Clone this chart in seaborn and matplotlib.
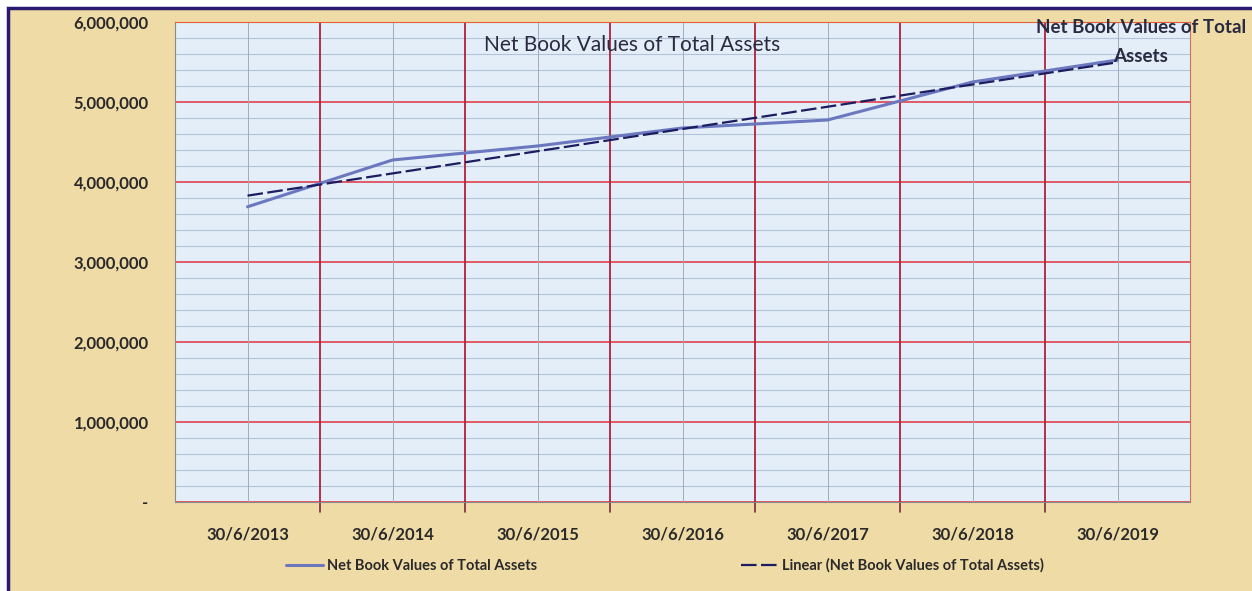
import numpy as np
import pandas as pd
import seaborn as sns
import matplotlib.pyplot as plt
from matplotlib.ticker import FuncFormatter, MultipleLocator
from matplotlib.patches import Rectangle

# data
dates = ["30/6/2013", "30/6/2014", "30/6/2015", "30/6/2016", "30/6/2017", "30/6/2018", "30/6/2019"]
net_book_values = [3690000, 4275000, 4450000, 4675000, 4775000, 5250000, 5525000]
series_name = "Net Book Values of Total Assets"

df = pd.DataFrame({"pos": np.arange(len(dates)), "value": net_book_values})

# linear trendline like excel
slope, intercept = np.polyfit(df["pos"], df["value"], 1)
df["trend"] = intercept + slope * df["pos"]

sns.set_style("white")
plt.rcParams["font.family"] = ["Lato", "DejaVu Sans"]

fig = plt.figure(figsize=(12.52, 5.91), dpi=100)
fig.patch.set_facecolor("#efdba6")
ax = fig.add_axes([0.1398, 0.1506, 0.8107, 0.8122])
ax.set_facecolor("#e3eef8")

# grid: minor blue horizontals, red majors, thin grey at category centres
ax.yaxis.set_minor_locator(MultipleLocator(200000))
ax.yaxis.set_major_locator(MultipleLocator(1000000))
ax.grid(which="minor", axis="y", color="#b2c4dc", lw=0.8, zorder=0)
ax.grid(which="major", axis="y", color="#e0404f", lw=1.2, zorder=1)
for p in df["pos"]:
    ax.axvline(p, color="#a3abbb", lw=0.7, zorder=1)
for b in np.arange(0.5, len(dates) - 1, 1.0):
    ax.axvline(b, color="#b0203a", lw=1.3, zorder=1)

sns.lineplot(data=df, x="pos", y="value", ax=ax, color="#6b78c0", lw=2.2,
             label=series_name, zorder=3)
sns.lineplot(data=df, x="pos", y="trend", ax=ax, color="#1c1c60", lw=1.6,
             label="Linear (Net Book Values of Total Assets)", zorder=4)
ax.lines[-1].set_dashes((7, 2))

ax.set_xlim(-0.5, len(dates) - 0.5)
ax.set_ylim(0, 6000000)
ax.set_xticks(df["pos"])
ax.set_xticklabels(dates, fontsize=12, fontweight="bold", color="#2a2a2a")
ax.yaxis.set_major_formatter(FuncFormatter(lambda v, _: "-" if v == 0 else f"{int(v):,}"))
for t in ax.get_yticklabels():
    t.set_fontsize(12)
    t.set_fontweight("bold")
    t.set_color("#2a2a2a")
ax.tick_params(axis="x", length=0, pad=18)
ax.tick_params(axis="y", length=0, pad=19)
ax.set_xlabel("")
ax.set_ylabel("")

for s in ["left", "bottom"]:
    ax.spines[s].set_color("#8a8a8a")
ax.spines["top"].set_color("#e0603a")
ax.spines["right"].set_color("#d07060")
# small ticks below the axis at category boundaries
for b in np.arange(0.5, len(dates) - 1, 1.0):
    ax.plot([b, b], [0, -130000], color="#7a2a3a", lw=1.2, clip_on=False)

fig.text(632 / 1252, 1 - 45 / 591, series_name, ha="center", va="center",
         fontsize=15, color="#2a2a40")
ax.annotate("Net Book Values of Total\nAssets", xy=(df["pos"].iloc[-1], net_book_values[-1]),
            xytext=(1141, 591 - 19), textcoords="figure pixels", ha="center", va="top",
            fontsize=13.5, fontweight="bold", color="#2a2a40", linespacing=1.85,
            annotation_clip=False)

leg = ax.legend(loc="upper center", bbox_to_anchor=(0.483, -0.09), ncol=2, frameon=False,
                fontsize=10.5, handlelength=2.5, handletextpad=0.3, columnspacing=14)
for t in leg.get_texts():
    t.set_fontweight("bold")
    t.set_color("#2a2a2a")

# outer frame
fig.patches.append(Rectangle((8 / 1252, -0.01), 1.02, 1 - 8 / 591 + 0.01, transform=fig.transFigure,
                             fill=False, edgecolor="#2a1a70", lw=2.5))
fig.patches.append(Rectangle((0, 1 - 7 / 591), 1, 7 / 591, transform=fig.transFigure,
                             color="white", zorder=-1))
fig.patches.append(Rectangle((0, 0), 7 / 1252, 1, transform=fig.transFigure,
                             color="white", zorder=-1))

fig.savefig("out.png", dpi=100, facecolor=fig.get_facecolor())
